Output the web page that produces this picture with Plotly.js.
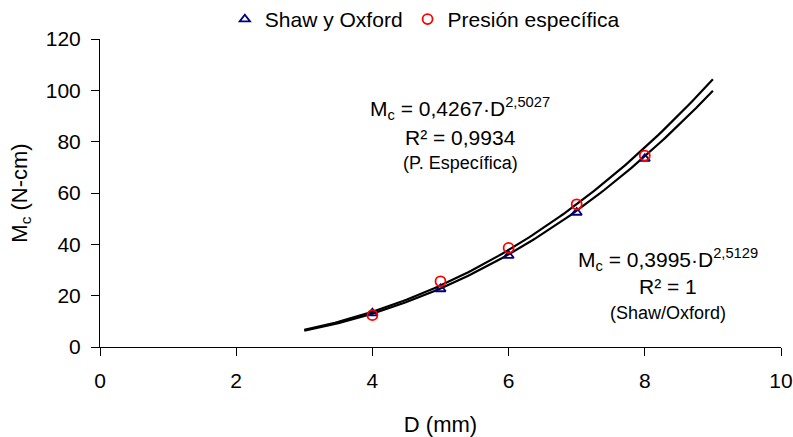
<!DOCTYPE html>
<html>
<head>
<meta charset="utf-8">
<script src="https://cdn.plot.ly/plotly-3.0.1.min.js"></script>
<style>html,body{margin:0;padding:0;background:#fff;}#chart{width:793px;height:437px;}</style>
</head>
<body>
<div id="chart"></div>
<script>
// Data
const diameters = [4, 5, 6, 7, 8];
const shawOxford = [13.2, 22.6, 35.6, 52.4, 73.4];
const presionEspecifica = [12.4, 25.6, 38.6, 55.6, 74.6];

// Trendline parameters shown on the chart (power fits)
const fitNames = ["Shaw/Oxford", "P. Específica"];
const fitCoef = [0.3995, 0.4267];
const fitExp = [2.5129, 2.5027];
const fitRange = [3, 9];

const xTicks = [0, 2, 4, 6, 8, 10];
const yTicks = [0, 20, 40, 60, 80, 100, 120];

function fitLine(a, b) {
  const xs = [], ys = [];
  const n = 120;
  for (let i = 0; i <= n; i++) {
    const x = fitRange[0] + (fitRange[1] - fitRange[0]) * i / n;
    xs.push(x); ys.push(a * Math.pow(x, b));
  }
  return {x: xs, y: ys};
}

const traces = [];
for (let k = 0; k < fitNames.length; k++) {
  const f = fitLine(fitCoef[k], fitExp[k]);
  traces.push({x: f.x, y: f.y, mode: 'lines', line: {color: '#000', width: 2.2}, showlegend: false, hoverinfo: 'skip', name: fitNames[k]});
}
traces.push({x: diameters, y: shawOxford, mode: 'markers', name: 'Shaw y Oxford',
  marker: {symbol: 'triangle-up-open', color: '#000080', size: 9, line: {width: 1.8, color: '#000080'}}});
traces.push({x: diameters, y: presionEspecifica, mode: 'markers', name: 'Presión específica',
  marker: {symbol: 'circle-open', color: '#ff0000', size: 10, line: {width: 1.8, color: '#ff0000'}}});

const fam = 'Liberation Sans, Arial, sans-serif';
const font = {family: fam, size: 21, color: '#000'};

const layout = {
  width: 793, height: 437,
  margin: {l: 100, r: 12, t: 39, b: 90, autoexpand: false},
  paper_bgcolor: '#fff', plot_bgcolor: '#fff',
  font: font,
  showlegend: true,
  legend: {orientation: 'h', x: 0.477, xanchor: 'center', y: 1.13, yanchor: 'top',
    font: {family: fam, size: 21, color: '#000'}, itemwidth: 30, tracegroupgap: 0, bgcolor: 'rgba(0,0,0,0)'},
  xaxis: {range: [0, 10], tickvals: xTicks, ticks: 'outside', ticklen: 8, tickcolor: '#000', tickwidth: 1,
    showline: true, linecolor: '#000', linewidth: 1, showgrid: false, zeroline: false,
    ticklabelstandoff: 7,
    tickfont: {family: fam, size: 21, color: '#000'},
    title: {text: 'D (mm)', font: {family: fam, size: 22, color: '#000'}, standoff: 25}},
  yaxis: {range: [0, 120], tickvals: yTicks, ticks: 'outside', ticklen: 8, tickcolor: '#000', tickwidth: 1,
    showline: true, linecolor: '#000', linewidth: 1, showgrid: false, zeroline: false,
    ticklabelstandoff: 6,
    tickfont: {family: fam, size: 21, color: '#000'},
    title: {text: 'M<sub>c</sub> (N-cm)', font: {family: fam, size: 22, color: '#000'}, standoff: 12}},
  annotations: [
    {xref: 'x', yref: 'y', x: 5.29, y: 93.1, text: 'M<sub>c</sub> = 0,4267·D<sup>2,5027</sup>', showarrow: false, font: {family: fam, size: 21, color: '#000'}},
    {xref: 'x', yref: 'y', x: 5.29, y: 81.8, text: 'R² = 0,9934', showarrow: false, font: {family: fam, size: 21, color: '#000'}},
    {xref: 'x', yref: 'y', x: 5.29, y: 71.7, text: '(P. Específica)', showarrow: false, font: {family: fam, size: 18, color: '#000'}},
    {xref: 'x', yref: 'y', x: 8.34, y: 33.9, text: 'M<sub>c</sub> = 0,3995·D<sup>2,5129</sup>', showarrow: false, font: {family: fam, size: 21, color: '#000'}},
    {xref: 'x', yref: 'y', x: 8.34, y: 23.4, text: 'R² = 1', showarrow: false, font: {family: fam, size: 21, color: '#000'}},
    {xref: 'x', yref: 'y', x: 8.34, y: 13.2, text: '(Shaw/Oxford)', showarrow: false, font: {family: fam, size: 18, color: '#000'}}
  ]
};

Plotly.newPlot('chart', traces, layout, {displayModeBar: false, staticPlot: true});
</script>
</body>
</html>
